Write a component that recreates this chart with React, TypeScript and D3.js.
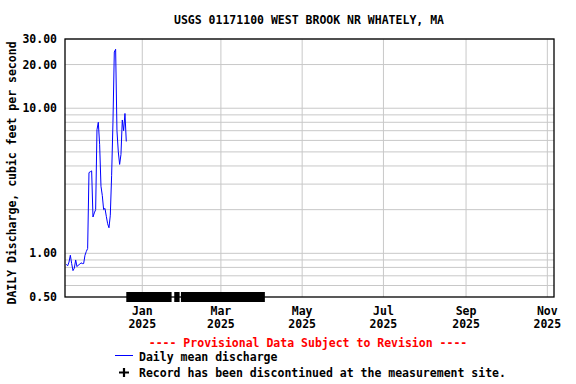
import React from "react";
import * as d3 from "d3";

const TITLE = "USGS 01171100 WEST BROOK NR WHATELY, MA";
const Y_LABEL = "DAILY Discharge, cubic feet per second";
const START_DATE = "2024-11-05";
const dischargeValues = [
  0.84, 0.82, 0.87, 0.97, 0.85, 0.76, 0.79, 0.9, 0.81, 0.83,
  0.84, 0.86, 0.85, 0.85, 0.97, 1.03, 1.08, 3.6, 3.65, 3.7,
  1.78, 1.9, 2.0, 7.1, 8.0, 5.6, 2.9, 2.5, 2.0, 2.04,
  1.8, 1.6, 1.5, 1.83, 3.45, 8.0, 24.4, 25.5, 7.0, 5.0,
  4.1, 4.8, 8.3, 7.0, 9.2, 5.9,
];
const discontinuedPeriods: [string, string][] = [
  ["2024-12-20", "2025-01-23"],
  ["2025-01-25", "2025-01-29"],
  ["2025-01-30", "2025-04-03"],
];
const xDomain = ["2024-11-04", "2025-11-06"];
const xTickDates = ["2025-01-01", "2025-03-01", "2025-05-01", "2025-07-01", "2025-09-01", "2025-11-01"];
const xTickMonths = ["Jan", "Mar", "May", "Jul", "Sep", "Nov"];
const xTickYears = ["2025", "2025", "2025", "2025", "2025", "2025"];
const yTickValues = [0.5, 1, 10, 20, 30];
const yTickLabels = ["0.50", "1.00", "10.00", "20.00", "30.00"];
const yGridValues = [0.6, 0.7, 0.8, 0.9, 1, 2, 3, 4, 5, 6, 7, 8, 9, 10, 20, 30];
const LEGEND_PROVISIONAL = "---- Provisional Data Subject to Revision ----";
const LEGEND_SERIES = "Daily mean discharge";
const LEGEND_DISCONTINUED = "Record has been discontinued at the measurement site.";

const W = 576, H = 384;
const M = { left: 65, right: 554, top: 39, bottom: 297 };
const FONT = "'DejaVu Sans Mono', monospace";

export default function App() {
  const parse = (s: string) => new Date(s + "T00:00:00Z");
  const x = d3.scaleUtc().domain(xDomain.map(parse)).range([M.left, M.right]);
  const y = d3.scaleLog().domain([0.5, 30]).range([M.bottom, M.top]);
  const start = parse(START_DATE);
  const data = dischargeValues.map((v, i) => ({ date: d3.utcDay.offset(start, i), v }));
  const line = d3.line<{ date: Date; v: number }>().x((d) => x(d.date)).y((d) => y(d.v));
  const fs = 11.5;

  return (
    <svg width={W} height={H} style={{ position: "absolute", left: 0, top: 0, background: "#fff" }}
      fontFamily={FONT} fontWeight="bold" fontSize={fs}>
      <rect x={0} y={0} width={W} height={H} fill="#fff" />
      <text x={309} y={24} textAnchor="middle" fill="#000">{TITLE}</text>
      {yGridValues.map((v, i) => (
        <line key={"yg" + i} x1={M.left} x2={M.right} y1={y(v)} y2={y(v)} stroke="#c8c8c8" strokeWidth={1} />
      ))}
      {xTickDates.map((d, i) => (
        <line key={"xg" + i} x1={x(parse(d))} x2={x(parse(d))} y1={M.top} y2={M.bottom} stroke="#c8c8c8" strokeWidth={1} />
      ))}
      <path d={line(data) || ""} fill="none" stroke="#0000ff" strokeWidth={1} />
      <rect x={M.left} y={M.top} width={M.right - M.left} height={M.bottom - M.top} fill="none" stroke="#000" strokeWidth={1.3} />
      {discontinuedPeriods.map(([a, b], i) => (
        <rect key={"dp" + i} x={x(parse(a))} y={M.bottom - 5} width={x(parse(b)) - x(parse(a))} height={10} fill="#000" />
      ))}
      {yTickValues.map((v, i) => (
        <text key={"yt" + i} x={57} y={y(v)} dy="0.35em" textAnchor="end" fill="#000">{yTickLabels[i]}</text>
      ))}
      {xTickDates.map((d, i) => (
        <g key={"xt" + i}>
          <text x={x(parse(d))} y={315} textAnchor="middle" fill="#000">{xTickMonths[i]}</text>
          <text x={x(parse(d))} y={327.5} textAnchor="middle" fill="#000">{xTickYears[i]}</text>
        </g>
      ))}
      <text transform={`translate(15.5, ${(M.top + 305) / 2 + 1}) rotate(-90)`} textAnchor="middle" fill="#000">{Y_LABEL}</text>
      <text x={308} y={347} textAnchor="middle" fill="#ff0000">{LEGEND_PROVISIONAL}</text>
      <line x1={115} x2={133} y1={355.5} y2={355.5} stroke="#0000ff" strokeWidth={1} />
      <text x={139} y={361} fill="#000">{LEGEND_SERIES}</text>
      <path d="M119,372.5 H129 M124,368 V377" stroke="#000" strokeWidth={2.2} fill="none" />
      <text x={139} y={377} fill="#000">{LEGEND_DISCONTINUED}</text>
    </svg>
  );
}
